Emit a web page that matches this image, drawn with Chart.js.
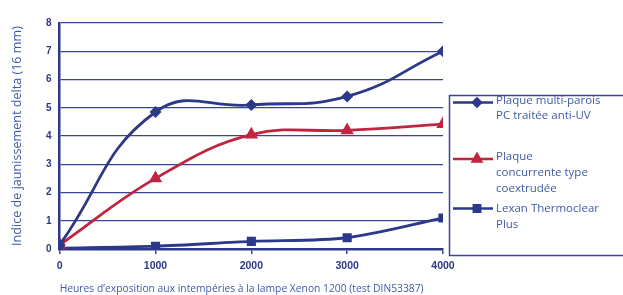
<!DOCTYPE html>
<html>
<head>
<meta charset="utf-8">
<script src="https://cdn.jsdelivr.net/npm/chart.js@4.4.1/dist/chart.umd.min.js"></script>
<style>
  html, body { margin: 0; padding: 0; background: #fff; }
  #wrap { position: relative; width: 623px; height: 295px; }
</style>
</head>
<body>
<div id="wrap"><canvas id="chart" width="623" height="295"></canvas></div>
<script>
// ── Data ──────────────────────────────────────────────
const HOURS = [0, 1000, 2000, 3000, 4000];
const Y_TICKS = [0, 1, 2, 3, 4, 5, 6, 7, 8];
const MULTIWALL = [0.15, 4.85, 5.1, 5.4, 7.0];
const COEXTRUDED = [0.15, 2.5, 4.05, 4.2, 4.42];
const THERMOCLEAR = [0.03, 0.1, 0.27, 0.4, 1.1];
const LABELS = [
  ['Plaque multi-parois', 'PC traitée anti-UV'],
  ['Plaque', 'concurrente type', 'coextrudée'],
  ['Lexan Thermoclear', 'Plus']
];
const X_TITLE = 'Heures d\u2019exposition aux intempéries à la lampe Xenon 1200 (test DIN53387)';
const Y_TITLE = 'Indice de jaunissement delta (16 mm)';

const NAVY = '#2c3889';
const RED = '#c0253f';
const GRID = '#3a4596';
const TEXT = '#3f5ba6';

const toPoints = vals => vals.map((v, i) => ({ x: HOURS[i], y: v }));

// ── Legend drawn in a boxed panel on the right ────────
const boxLegend = {
  id: 'boxLegend',
  afterDraw(chart) {
    const ctx = chart.ctx;
    ctx.save();
    ctx.strokeStyle = GRID;
    ctx.lineWidth = 1.5;
    ctx.strokeRect(449.5, 95.5, 200, 160);

    const rows = [
      { line: 102.5, text: [100.5, 116] },
      { line: 159, text: [157, 173, 188.5] },
      { line: 208.5, text: [208.5, 225] }
    ];
    chart.data.datasets.forEach((ds, i) => {
      const r = rows[i];
      ctx.strokeStyle = ds.borderColor;
      ctx.lineWidth = 2.5;
      ctx.beginPath();
      ctx.moveTo(453, r.line);
      ctx.lineTo(493, r.line);
      ctx.stroke();
      Chart.helpers.drawPoint(ctx, {
        pointStyle: ds.pointStyle,
        radius: ds.pointRadius,
        borderWidth: 1
      }, 477, r.line);
      ctx.fillStyle = ds.borderColor;
      ctx.fill();

      ctx.fillStyle = TEXT;
      ctx.font = '11.5px "Open Sans"';
      ctx.textBaseline = 'middle';
      ctx.textAlign = 'left';
      LABELS[i].forEach((t, k) => ctx.fillText(t, 496, r.text[k]));
    });
    ctx.restore();
  }
};

// ── Chart ─────────────────────────────────────────────
const ctx = document.getElementById('chart').getContext('2d');
new Chart(ctx, {
  type: 'line',
  data: {
    datasets: [
      {
        label: LABELS[0].join(' '),
        data: toPoints(MULTIWALL),
        borderColor: NAVY,
        backgroundColor: NAVY,
        pointStyle: 'rectRot',
        pointRadius: 4,
        borderWidth: 2.8,
        tension: 0.45
      },
      {
        label: LABELS[1].join(' '),
        data: toPoints(COEXTRUDED),
        borderColor: RED,
        backgroundColor: RED,
        pointStyle: 'triangle',
        pointRadius: 5,
        borderWidth: 2.8,
        tension: 0.4
      },
      {
        label: LABELS[2].join(' '),
        data: toPoints(THERMOCLEAR),
        borderColor: NAVY,
        backgroundColor: NAVY,
        pointStyle: 'rect',
        pointRadius: 4.5,
        borderWidth: 2.8,
        tension: 0.3
      }
    ]
  },
  options: {
    responsive: false,
    animation: false,
    layout: { padding: { left: 10, right: 180, top: 23, bottom: 0 } },
    plugins: {
      legend: { display: false },
      tooltip: { enabled: false }
    },
    scales: {
      x: {
        type: 'linear',
        min: 0,
        max: 4000,
        afterBuildTicks: axis => { axis.ticks = HOURS.map(v => ({ value: v })); },
        ticks: {
          color: NAVY,
          font: { family: 'Liberation Sans', size: 10.5, weight: 'bold' },
          padding: 6,
          maxRotation: 0,
          callback: v => String(v)
        },
        grid: { drawOnChartArea: false, drawTicks: true, tickLength: 5, color: GRID, lineWidth: 1.5 },
        border: { color: NAVY, width: 2.5 },
        title: {
          display: true,
          text: X_TITLE,
          align: 'start',
          color: TEXT,
          font: { family: 'Open Sans', size: 10.3 },
          padding: { top: 4, bottom: 0 }
        }
      },
      y: {
        min: 0,
        max: 8,
        afterBuildTicks: axis => { axis.ticks = Y_TICKS.map(v => ({ value: v })); },
        ticks: {
          color: NAVY,
          font: { family: 'Liberation Sans', size: 10, weight: 'bold' },
          padding: 8
        },
        grid: { drawTicks: false, color: GRID, lineWidth: 1.3 },
        border: { color: NAVY, width: 2.5 },
        title: {
          display: true,
          text: Y_TITLE,
          color: TEXT,
          font: { family: 'Open Sans', size: 12.6 },
          padding: { top: 0, bottom: 13 }
        }
      }
    }
  },
  plugins: [boxLegend]
});
</script>
</body>
</html>
